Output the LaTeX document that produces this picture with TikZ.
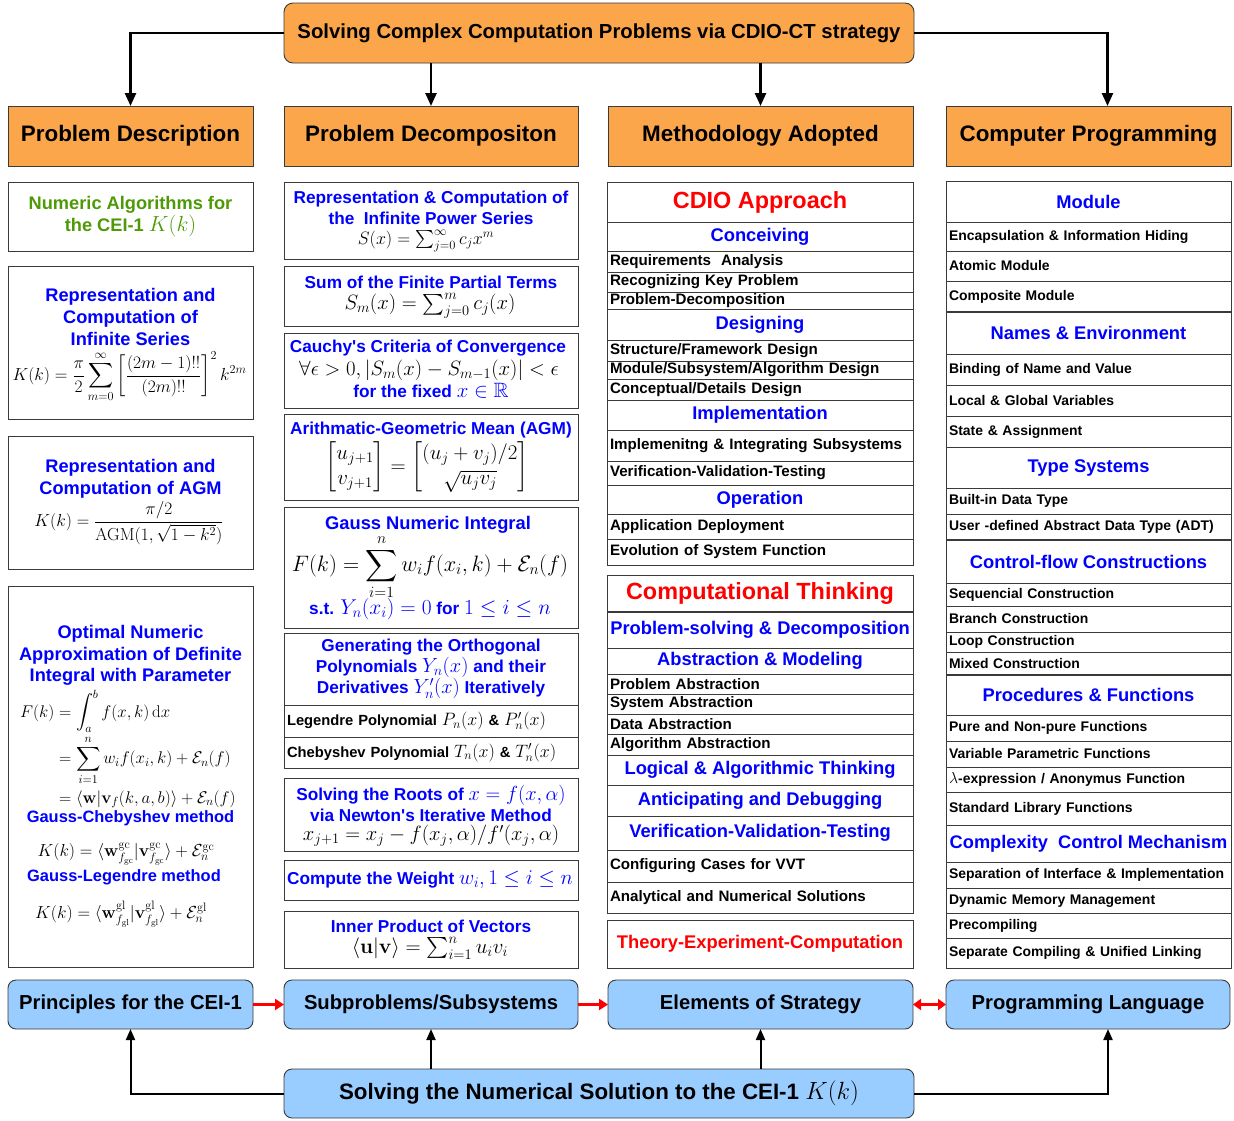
\documentclass[tikz,border=0pt]{standalone}
\usepackage{fix-cm}
\usepackage{amsmath,amssymb}
\usepackage[no-math]{fontspec}
\setmainfont{Liberation Sans}
\usetikzlibrary{arrows.meta}
\definecolor{orng}{HTML}{FBA64B}
\definecolor{lblue}{HTML}{99CCFF}
\definecolor{tblue}{HTML}{0000FF}
\definecolor{tgreen}{HTML}{4E9A06}
\definecolor{tred}{HTML}{FF0000}
\definecolor{edge}{HTML}{3A3A3A}
\newdimen\cw \newdimen\ch \newdimen\tw
\newcommand\fz[2]{\fontsize{#1}{#2}\selectfont\bfseries}
\newcommand\M[2]{{\fontsize{#1}{#1}\selectfont$#2$}}
\newcommand\cell[7]{\cw=\dimexpr#4bp-#2bp\relax\ch=\dimexpr#5bp-#3bp\relax
  \node[cellb,minimum width=\cw,minimum height=\ch,#6] (#1) at (#2,#3) {#7};}
\newcommand\lcell[7]{\cw=\dimexpr#4bp-#2bp\relax\ch=\dimexpr#5bp-#3bp\relax\tw=\dimexpr\cw-6bp\relax
  \node[cellb,minimum width=\cw,minimum height=\ch,text width=\tw,inner xsep=3bp,align=left,#6] (#1) at (#2,#3) {#7};}
\tikzset{
  cellb/.style={draw=edge,line width=0.9bp,inner sep=0pt,outer sep=0pt,anchor=north west,fill=white},
  hd/.style={fill=orng,font=\fz{22.5}{26}},
  bx/.style={fill=lblue,rounded corners=8bp,font=\fz{20.3}{24}},
  bh/.style={text=tblue,font=\fz{18.4}{21}},
  rh/.style={text=tred,font=\fz{23.5}{27}},
  i3/.style={font=\fz{15.2}{17}},
  i4/.style={font=\fz{14}{16}},
  tx/.style={inner sep=0pt,align=center},
  bt/.style={tx,text=tblue,font=\fz{18.3}{21.8}},
  bs/.style={tx,text=tblue,font=\fz{17.3}{21}},
  gt/.style={tx,text=tgreen,font=\fz{18.3}{22}},
  mt/.style={inner sep=0pt,font=\fontsize{17.5}{21}\selectfont},
  sep/.style={draw=edge,line width=1.8bp},
  tarr/.style={line width=2.5bp,-{Triangle[length=13bp,width=11bp]}},
  barr/.style={line width=2bp,-{Triangle[length=11bp,width=9bp]}},
  rarr/.style={draw=tred,line width=3.5bp,-{Triangle[length=9bp,width=11bp]}},
}
\begin{document}
\begin{tikzpicture}[x=1bp,y=-1bp]
\fill[white] (0,0) rectangle (1234,1121);
\useasboundingbox (0,0) rectangle (1234,1121);
% top
\cell{T}{284}{3}{914}{63}{fill=orng,rounded corners=9bp,font=\fz{20.4}{24}}{Solving Complex Computation Problems via CDIO-CT strategy}
\cell{h1}{8}{106}{253}{166}{hd}{Problem Description}
\cell{h2}{284}{106}{578}{166}{hd}{Problem Decompositon}
\cell{h3}{608}{106}{913}{166}{hd}{Methodology Adopted}
\cell{h4}{946}{106}{1231}{166}{hd}{Computer Programming}
\draw[tarr] (T.west) -| (h1.north);
\draw[tarr] (T.south -| h2.north) -- (h2.north);
\draw[tarr] (T.south -| h3.north) -- (h3.north);
\draw[tarr] (T.east) -| ([xshift=19bp]h4.north);
% column 1
\cell{c1a}{8}{182}{253}{251}{}{}
\node[gt] (c1at) at (130.5,217) {Numeric Algorithms for\\the CEI-1 \M{22}{K(k)}};
\cell{c1b}{8}{266}{253}{419}{}{}
\node[bt] (c1bt) at (130.5,317) {Representation and\\Computation of\\Infinite Series};
\node[mt] (c1bf) at (129.5,377) {$\displaystyle K(k)=\frac{\pi}{2}\sum_{m=0}^{\infty}\left[\frac{(2m-1)!!}{(2m)!!}\right]^2k^{2m}$};
\cell{c1c}{8}{436}{253}{569}{}{}
\node[bt] (c1ct) at (130.5,479) {Representation and\\Computation of AGM};
\node[mt] (c1cf) at (129,523) {$\displaystyle K(k)=\frac{\pi/2}{\mathrm{AGM}(1,\sqrt{1-k^2})}$};
\cell{c1d}{8}{586}{253}{967}{}{}
\node[bt] (c1dt) at (130.5,655.5) {Optimal Numeric\\Approximation of Definite\\Integral with Parameter};
\node[mt,anchor=west,font=\fontsize{17}{21}\selectfont] (c1df) at (20,750) {\setlength\jot{2.5pt}$\displaystyle\begin{aligned}F(k)&=\int_a^b f(x,k)\,\mathrm{d}x\\&=\sum_{i=1}^n w_if(x_i,k)+\mathcal{E}_n(f)\\&=\langle\mathbf{w}|\mathbf{v}_f(k,a,b)\rangle+\mathcal{E}_n(f)\end{aligned}$};
\node[tx,text=tblue,font=\fz{16.5}{20}] (c1dg1) at (130.5,818) {Gauss-Chebyshev method};
\node[mt] (c1dk1) at (126,854) {$K(k)=\langle\mathbf{w}^{\mathrm{gc}}_{f_{\mathrm{gc}}}|\mathbf{v}^{\mathrm{gc}}_{f_{\mathrm{gc}}}\rangle+\mathcal{E}^{\mathrm{gc}}_n$};
\node[tx,text=tblue,font=\fz{16.5}{20}] (c1dg2) at (124,877) {Gauss-Legendre method};
\node[mt] (c1dk2) at (121,914) {$K(k)=\langle\mathbf{w}^{\mathrm{gl}}_{f_{\mathrm{gl}}}|\mathbf{v}^{\mathrm{gl}}_{f_{\mathrm{gl}}}\rangle+\mathcal{E}^{\mathrm{gl}}_n$};
% column 2
\cell{c2a}{284}{182}{578}{259}{}{}
\node[bs] (c2at) at (431,207.5) {Representation \& Computation of\\the\ \ Infinite Power Series};
\node[mt,font=\fontsize{18}{21}\selectfont] (c2af) at (426,241) {$S(x)=\sum_{j=0}^{\infty}c_jx^m$};
\cell{c2b}{284}{266}{578}{326}{}{}
\node[bs] (c2bt) at (431,282) {Sum of the Finite Partial Terms};
\node[mt,font=\fontsize{20.8}{24}\selectfont] (c2bf) at (430,306) {$S_m(x)=\sum_{j=0}^{m}c_j(x)$};
\cell{c2c}{284}{333}{578}{408}{}{}
\node[bs] (c2ct) at (428,348) {Cauchy\textquotesingle s Criteria of Convergence};
\node[mt,font=\fontsize{20.8}{24}\selectfont] (c2cf) at (429,370) {$\forall\epsilon>0,|S_m(x)-S_{m-1}(x)|<\epsilon$};
\node[bs] (c2cx) at (431,391) {for the fixed \M{20.8}{x\in\mathbb{R}}};
\cell{c2d}{284}{414}{578}{500}{}{}
\node[bs] (c2dt) at (431,430) {Arithmatic-Geometric Mean (AGM)};
\node[mt,font=\fontsize{21}{25}\selectfont] (c2df) at (427,467) {$\begin{bmatrix}u_{j+1}\\ v_{j+1}\end{bmatrix}=\begin{bmatrix}(u_j+v_j)/2\\ \sqrt{u_jv_j}\end{bmatrix}$};
\cell{c2e}{284}{507}{578}{628}{}{}
\node[tx,text=tblue,font=\fz{18.4}{21}] (c2et) at (428,525) {Gauss Numeric Integral};
\node[mt,font=\fontsize{22.4}{26}\selectfont] (c2ef) at (430,567) {$\displaystyle F(k)=\sum_{i=1}^{n}w_if(x_i,k)+\mathcal{E}_n(f)$};
\node[bs] (c2es) at (430,609) {s.t. \M{21.5}{Y_n(x_i)=0} for \M{21.5}{1\le i\le n}};
\cell{c2f}{284}{633}{578}{705}{}{}
\node[bs] (c2ft) at (431,669) {Generating the Orthogonal\\Polynomials \M{20.5}{Y_n(x)} and their\\Derivatives \M{20.5}{Y_n'(x)} Iteratively};
\lcell{c2g}{284}{705}{578}{737}{font=\fz{14.8}{17}}{Legendre Polynomial \M{18}{P_n(x)} \& \M{18}{P_n'(x)}}
\lcell{c2h}{284}{737}{578}{768}{font=\fz{14.8}{17}}{Chebyshev Polynomial \M{18}{T_n(x)} \& \M{18}{T_n'(x)}}
\cell{c2i}{284}{778}{578}{851}{}{}
\node[bs] (c2it) at (431,803) {Solving the Roots of \M{20.5}{x=f(x,\alpha)}\\via Newton\textquotesingle s Iterative Method};
\node[mt,font=\fontsize{20.7}{24}\selectfont] (c2if) at (431,836) {$x_{j+1}=x_j-f(x_j,\alpha)/f'(x_j,\alpha)$};
\cell{c2j}{284}{860}{578}{900}{}{}
\node[bs] (c2jt) at (430,880) {Compute the Weight \M{21}{w_i,1\le i\le n}};
\cell{c2k}{284}{911}{578}{968}{}{}
\node[bs] (c2kt) at (431,926) {Inner Product of Vectors};
\node[mt,font=\fontsize{21}{24}\selectfont] (c2kf) at (430,948) {$\langle\mathbf{u}|\mathbf{v}\rangle=\sum_{i=1}^{n}u_iv_i$};
% column 3
\cell{cdio}{607}{182}{913}{222}{rh}{CDIO Approach}
\cell{conc}{607}{222}{913}{251}{bh}{Conceiving}
\lcell{r1}{607}{251}{913}{272}{i3}{Requirements\ \ Analysis}
\lcell{r2}{607}{272}{913}{292}{i3}{Recognizing Key Problem}
\lcell{r3}{607}{292}{913}{309}{i3}{Problem-Decomposition}
\cell{desg}{607}{309}{913}{340}{bh}{Designing}
\lcell{r4}{607}{340}{913}{361}{i3}{Structure/Framework Design}
\lcell{r5}{607}{361}{913}{379}{i3}{Module/Subsystem/Algorithm Design}
\lcell{r6}{607}{379}{913}{400}{i3}{Conceptual/Details Design}
\cell{impl}{607}{400}{913}{430}{bh}{Implementation}
\lcell{r7}{607}{430}{913}{461}{i3}{Implemenitng \& Integrating Subsystems}
\lcell{r8}{607}{461}{913}{485}{i3}{Verification-Validation-Testing}
\cell{oper}{607}{485}{913}{514}{bh}{Operation}
\lcell{r9}{607}{514}{913}{539}{i3}{Application Deployment}
\lcell{r10}{607}{539}{913}{565}{i3}{Evolution of System Function}
\cell{ct}{607}{575}{913}{612}{rh}{Computational Thinking}
\cell{ps}{607}{612}{913}{648}{bh}{Problem-solving \& Decomposition}
\cell{am}{607}{648}{913}{674}{bh}{Abstraction \& Modeling}
\lcell{a1}{607}{674}{913}{694}{i3}{Problem Abstraction}
\lcell{a2}{607}{694}{913}{714}{i3}{System Abstraction}
\lcell{a3}{607}{714}{913}{734}{i3}{Data Abstraction}
\lcell{a4}{607}{734}{913}{755}{i3}{Algorithm Abstraction}
\cell{lat}{607}{755}{913}{785}{bh}{Logical \& Algorithmic Thinking}
\cell{adb}{607}{785}{913}{816}{bh}{Anticipating and Debugging}
\cell{vvt}{607}{816}{913}{850}{bh}{Verification-Validation-Testing}
\lcell{v1}{607}{850}{913}{882}{i3}{Configuring Cases for VVT}
\lcell{v2}{607}{882}{913}{913}{i3}{Analytical and Numerical Solutions}
\cell{tec}{607}{920}{913}{968}{rh,font=\fz{18.4}{22}}{Theory-Experiment-Computation}
\draw[sep] (ct.south west) -- (ct.south east);
% column 4
\cell{mod}{946}{181}{1231}{222}{bh}{Module}
\lcell{m1}{946}{222}{1231}{251}{i4}{Encapsulation \& Information Hiding}
\lcell{m2}{946}{251}{1231}{281}{i4}{Atomic Module}
\lcell{m3}{946}{281}{1231}{312}{i4}{Composite Module}
\cell{nenv}{946}{312}{1231}{354}{bh}{Names \& Environment}
\lcell{n1}{946}{354}{1231}{385}{i4}{Binding of Name and Value}
\lcell{n2}{946}{385}{1231}{416}{i4}{Local \& Global Variables}
\lcell{n3}{946}{416}{1231}{447}{i4}{State \& Assignment}
\cell{tsys}{946}{447}{1231}{488}{bh}{Type Systems}
\lcell{t1}{946}{488}{1231}{514}{i4}{Built-in Data Type}
\lcell{t2}{946}{514}{1231}{540}{i4}{User -defined Abstract Data Type (ADT)}
\cell{cflow}{946}{540}{1231}{583}{bh}{Control-flow Constructions}
\lcell{f1}{946}{583}{1231}{606}{i4}{Sequencial Construction}
\lcell{f2}{946}{606}{1231}{632}{i4}{Branch Construction}
\lcell{f3}{946}{632}{1231}{652}{i4}{Loop Construction}
\lcell{f4}{946}{652}{1231}{675}{i4}{Mixed Construction}
\cell{pfun}{946}{675}{1231}{715}{bh}{Procedures \& Functions}
\lcell{p1}{946}{715}{1231}{741}{i4}{Pure and Non-pure Functions}
\lcell{p2}{946}{741}{1231}{767}{i4}{Variable Parametric Functions}
\lcell{p3}{946}{767}{1231}{792}{i4}{\M{16}{\lambda}-expression / Anonymus Function}
\lcell{p4}{946}{792}{1231}{825}{i4}{Standard Library Functions}
\cell{ccm}{946}{825}{1231}{862}{bh,font=\fz{18.3}{21}}{Complexity\ \ Control Mechanism}
\lcell{x1}{946}{862}{1231}{888}{i4}{Separation of Interface \& Implementation}
\lcell{x2}{946}{888}{1231}{913}{i4}{Dynamic Memory Management}
\lcell{x3}{946}{913}{1231}{938}{i4}{Precompiling}
\lcell{x4}{946}{938}{1231}{968}{i4}{Separate Compiling \& Unified Linking}
\draw[sep] (m3.south west) -- (m3.south east);
\draw[sep] (t2.south west) -- (t2.south east);
\draw[sep] (f4.south west) -- (f4.south east);
% bottom
\cell{b1}{8}{980}{253}{1029}{bx}{Principles for the CEI-1}
\cell{b2}{284}{980}{578}{1029}{bx}{Subproblems/Subsystems}
\cell{b3}{608}{980}{913}{1029}{bx}{Elements of Strategy}
\cell{b4}{946}{980}{1230}{1029}{bx}{Programming Language}
\cell{S}{284}{1069}{914}{1118}{bx,font=\fz{22.4}{26}}{Solving the Numerical Solution to the CEI-1 \M{25}{K(k)}}
\draw[barr] (S.west) -| (b1.south);
\draw[barr] (S.north -| b2.south) -- (b2.south);
\draw[barr] (S.north -| b3.south) -- (b3.south);
\draw[barr] (S.east) -| ([xshift=20bp]b4.south);
\draw[rarr] (b1) -- (b2);
\draw[rarr] (b2) -- (b3);
\draw[rarr,{Triangle[length=8bp,width=11bp]}-{Triangle[length=8bp,width=11bp]}] (b3) -- (b4);
\end{tikzpicture}
\end{document}
